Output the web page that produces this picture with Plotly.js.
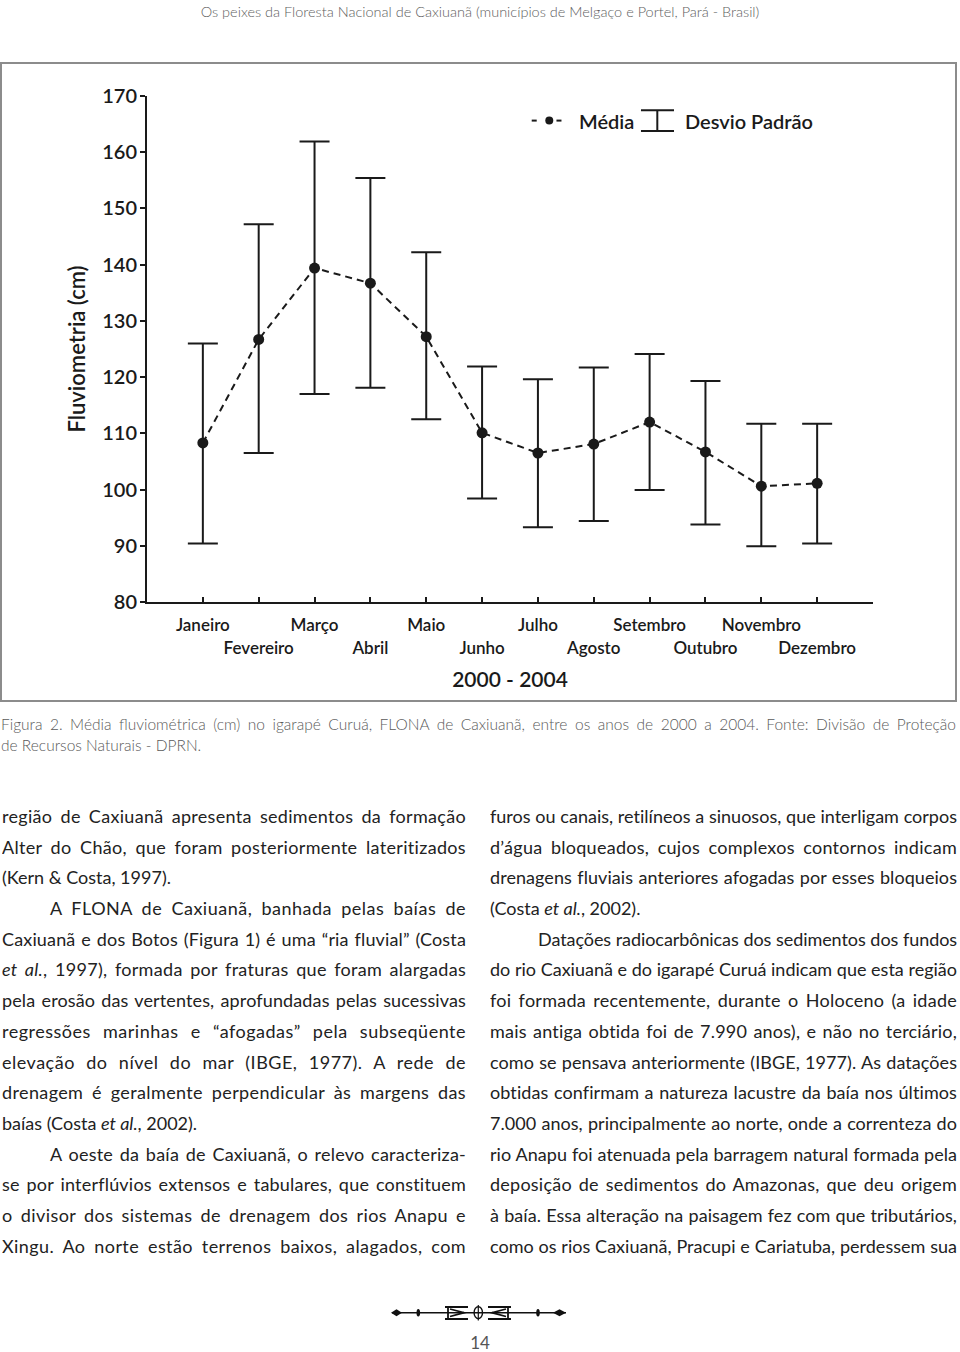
<!DOCTYPE html>
<html>
<head>
<meta charset="utf-8">
<script src="https://cdn.plot.ly/plotly-3.0.1.min.js"></script>
<style>
  body { margin: 0; background: #fff; font-family: Lato, sans-serif; }
  #page { position: relative; width: 960px; height: 1352px; overflow: hidden; }
  .header { position: absolute; left: 0; width: 960px; top: 3px; text-align: center;
    font-size: 14.5px; font-weight: 300; color: #5e5e5e; }
  #frame { position: absolute; left: 0; top: 62px; width: 953px; height: 636px;
    border: 2px solid #8c8c8c; }
  #plot { width: 953px; height: 636px; }
  .caption { position: absolute; left: 1px; width: 955px; font-size: 15.5px; font-weight: 300;
    color: #5a5a5a; line-height: 20px; }
  .col { position: absolute; top: 801px; font-size: 18px; color: #222; }
  .col div { height: 30.7px; line-height: 30.7px; white-space: nowrap; }
  .col .j { text-align: justify; text-align-last: justify; white-space: normal; overflow: hidden; }
  .col .in { padding-left: 48px; }
  .pagenum { position: absolute; left: 0; width: 960px; top: 1332px; text-align: center;
    font-size: 17px; color: #555; }
</style>
</head>
<body>
<div id="page">
  <div class="header">Os peixes da Floresta Nacional de Caxiuanã (municípios de Melgaço e Portel, Pará - Brasil)</div>
  <div id="frame"><div id="plot"></div></div>

  <div class="caption" style="top:714px;text-align:justify;text-align-last:justify;">Figura 2. Média fluviométrica (cm) no igarapé Curuá, FLONA de Caxiuanã, entre os anos de 2000 a 2004. Fonte: Divisão de Proteção</div>
  <div class="caption" style="top:735px;">de Recursos Naturais - DPRN.</div>

  <div class="col" style="left:2px;width:464px;">
    <div class="j">região de Caxiuanã apresenta sedimentos da formação</div>
    <div class="j">Alter do Chão, que foram posteriormente lateritizados</div>
    <div>(Kern &amp; Costa, 1997).</div>
    <div class="j in">A FLONA de Caxiuanã, banhada pelas baías de</div>
    <div class="j">Caxiuanã e dos Botos (Figura 1) é uma “ria fluvial” (Costa</div>
    <div class="j"><i>et al.</i>, 1997), formada por fraturas que foram alargadas</div>
    <div class="j">pela erosão das vertentes, aprofundadas pelas sucessivas</div>
    <div class="j">regressões marinhas e “afogadas” pela subseqüente</div>
    <div class="j">elevação do nível do mar (IBGE, 1977). A rede de</div>
    <div class="j">drenagem é geralmente perpendicular às margens das</div>
    <div>baías (Costa <i>et al.</i>, 2002).</div>
    <div class="j in">A oeste da baía de Caxiuanã, o relevo caracteriza-</div>
    <div class="j">se por interflúvios extensos e tabulares, que constituem</div>
    <div class="j">o divisor dos sistemas de drenagem dos rios Anapu e</div>
    <div class="j">Xingu. Ao norte estão terrenos baixos, alagados, com</div>
  </div>

  <div class="col" style="left:490px;width:467px;">
    <div class="j">furos ou canais, retilíneos a sinuosos, que interligam corpos</div>
    <div class="j">d’água bloqueados, cujos complexos contornos indicam</div>
    <div class="j">drenagens fluviais anteriores afogadas por esses bloqueios</div>
    <div>(Costa <i>et al.</i>, 2002).</div>
    <div class="j in">Datações radiocarbônicas dos sedimentos dos fundos</div>
    <div class="j">do rio Caxiuanã e do igarapé Curuá indicam que esta região</div>
    <div class="j">foi formada recentemente, durante o Holoceno (a idade</div>
    <div class="j">mais antiga obtida foi de 7.990 anos), e não no terciário,</div>
    <div class="j">como se pensava anteriormente (IBGE, 1977). As datações</div>
    <div class="j">obtidas confirmam a natureza lacustre da baía nos últimos</div>
    <div class="j">7.000 anos, principalmente ao norte, onde a correnteza do</div>
    <div class="j">rio Anapu foi atenuada pela barragem natural formada pela</div>
    <div class="j">deposição de sedimentos do Amazonas, que deu origem</div>
    <div class="j">à baía. Essa alteração na paisagem fez com que tributários,</div>
    <div class="j">como os rios Caxiuanã, Pracupi e Cariatuba, perdessem sua</div>
  </div>

  <svg style="position:absolute;left:380px;top:1300px;" width="200" height="26">
    <g fill="#111" stroke="#111">
      <line x1="12" y1="12.7" x2="186" y2="12.7" stroke-width="1.6"/>
      <polygon points="11,12.7 16.5,9.2 22,12.7 16.5,16.2" stroke="none"/>
      <polygon points="173,12.7 179.5,9.2 186,12.7 179.5,16.2" stroke="none"/>
      <ellipse cx="38.3" cy="12.7" rx="1.8" ry="3.8" stroke="none"/>
      <ellipse cx="158" cy="12.7" rx="1.8" ry="3.8" stroke="none"/>
      <path d="M65 7 L88 7 M65 19 L88 19 M68 7 L68 19 M70 9 L84 12.7 L70 16.5" fill="none" stroke-width="1.8"/>
      <path d="M131 7 L108 7 M131 19 L108 19 M128 7 L128 19 M126 9 L112 12.7 L126 16.5" fill="none" stroke-width="1.8"/>
      <ellipse cx="98.3" cy="12.7" rx="4.2" ry="6" fill="none" stroke-width="1.4"/>
      <line x1="98.3" y1="5" x2="98.3" y2="20.5" stroke-width="1.2"/>
    </g>
  </svg>
  <div class="pagenum">14</div>
</div>

<script>
// dados (médias mensais e desvio padrão, cm)
const months = ['Janeiro', 'Fevereiro', 'Março', 'Abril', 'Maio', 'Junho',
  'Julho', 'Agosto', 'Setembro', 'Outubro', 'Novembro', 'Dezembro'];
const media = [108.3, 126.7, 139.4, 136.7, 127.2, 110.1, 106.5, 108.1, 112.0, 106.7, 100.6, 101.1];
const sdUpper = [17.7, 20.5, 22.5, 18.7, 15.0, 11.8, 13.1, 13.6, 12.1, 12.6, 11.1, 10.6];
const sdLower = [17.9, 20.2, 22.4, 18.6, 14.7, 11.7, 13.2, 13.7, 12.1, 12.9, 10.7, 10.7];
const yTicks = [80, 90, 100, 110, 120, 130, 140, 150, 160, 170];

// linhas justificadas: ajusta o espaçamento de letras para caber na coluna
function fitLines() {
    document.querySelectorAll('.col .j').forEach(div => {
        div.style.whiteSpace = 'nowrap';
        div.style.textAlignLast = 'left';
        div.innerHTML = '<span>' + div.innerHTML + '</span>';
        const span = div.firstChild;
        const cs = getComputedStyle(div);
        const target = div.clientWidth - parseFloat(cs.paddingLeft) - parseFloat(cs.paddingRight);
        const natural = span.getBoundingClientRect().width;
        const chars = div.textContent.length;
        let ls;
        if (natural > target) ls = (target - natural) / chars - 0.02;
        else ls = Math.min(0.5, (target - natural) * 0.45 / chars);
        div.style.letterSpacing = ls.toFixed(3) + 'px';
        div.style.whiteSpace = 'normal';
        div.style.textAlignLast = 'justify';
    });
}
fitLines();

const ink = '#1a1a1a';
const fontFam = 'Lato, sans-serif';

const xPos = months.map((m, i) => i + 1);
// rótulos alternados em duas linhas, como no original
const tickText = months.map((m, i) => (i % 2 === 0 ? m : '<br>' + m));

const meanTrace = {
    x: xPos,
    y: media,
    type: 'scatter',
    mode: 'lines+markers',
    name: 'Média',
    line: { color: ink, width: 2, dash: '7px,5px' },
    marker: { color: ink, size: 11 },
    error_y: {
        type: 'data',
        symmetric: false,
        array: sdUpper,
        arrayminus: sdLower,
        color: ink,
        thickness: 2,
        width: 15
    },
    showlegend: false
};

// legenda desenhada à mão (papel), para reproduzir o símbolo do desvio padrão
const legY = 0.9514;
const shapes = [
    { type: 'line', xref: 'paper', yref: 'paper', x0: 0.5299, x1: 0.5368, y0: legY, y1: legY, line: { color: ink, width: 2 } },
    { type: 'line', xref: 'paper', yref: 'paper', x0: 0.5640, x1: 0.5709, y0: legY, y1: legY, line: { color: ink, width: 2 } },
    { type: 'circle', xref: 'paper', yref: 'paper', x0: 0.5486, x1: 0.5596, y0: legY - 0.0079, y1: legY + 0.0079, fillcolor: ink, line: { color: ink, width: 0 } },
    { type: 'line', xref: 'paper', yref: 'paper', x0: 0.6804, x1: 0.7259, y0: 0.9717, y1: 0.9717, line: { color: ink, width: 2 } },
    { type: 'line', xref: 'paper', yref: 'paper', x0: 0.6804, x1: 0.7259, y0: 0.9308, y1: 0.9308, line: { color: ink, width: 2 } },
    { type: 'line', xref: 'paper', yref: 'paper', x0: 0.7029, x1: 0.7029, y0: 0.9308, y1: 0.9717, line: { color: ink, width: 2 } }
];

const annotations = [
    { text: 'Média', xref: 'paper', yref: 'paper', x: 0.5919, y: legY, xanchor: 'left', yanchor: 'middle', showarrow: false,
      font: { family: fontFam, size: 20, weight: 600, color: ink } },
    { text: 'Desvio Padrão', xref: 'paper', yref: 'paper', x: 0.7379, y: legY, xanchor: 'left', yanchor: 'middle', showarrow: false,
      font: { family: fontFam, size: 20, weight: 600, color: ink } }
];

const layout = {
    width: 953,
    height: 636,
    margin: { l: 145, r: 82, t: 32, b: 98 },
    paper_bgcolor: '#fff',
    plot_bgcolor: '#fff',
    font: { family: fontFam, color: ink },
    showlegend: false,
    xaxis: {
        range: [0, 13],
        tickvals: xPos.concat([13]),
        ticktext: tickText.concat(['']),
        tickangle: 0,
        ticks: 'inside',
        ticklen: 5,
        tickwidth: 2,
        tickcolor: ink,
        showline: true,
        linecolor: ink,
        linewidth: 2,
        showgrid: false,
        zeroline: false,
        ticklabelstandoff: 7,
        tickfont: { family: fontFam, size: 17, weight: 600, color: ink },
        title: { text: '2000 - 2004', standoff: 16, font: { family: fontFam, size: 21, weight: 600, color: ink } }
    },
    yaxis: {
        range: [80, 170],
        tickvals: yTicks,
        ticks: 'outside',
        ticklen: 5,
        tickwidth: 2,
        tickcolor: ink,
        showline: true,
        linecolor: ink,
        linewidth: 2,
        showgrid: false,
        zeroline: false,
        ticklabelstandoff: -1,
        tickfont: { family: fontFam, size: 20, weight: 600, color: ink },
        title: { text: 'Fluviometria (cm)', standoff: 10, font: { family: fontFam, size: 22, weight: 600, color: ink } }
    },
    shapes: shapes,
    annotations: annotations
};

Plotly.newPlot('plot', [meanTrace], layout, { displayModeBar: false, staticPlot: true });
</script>
</body>
</html>
